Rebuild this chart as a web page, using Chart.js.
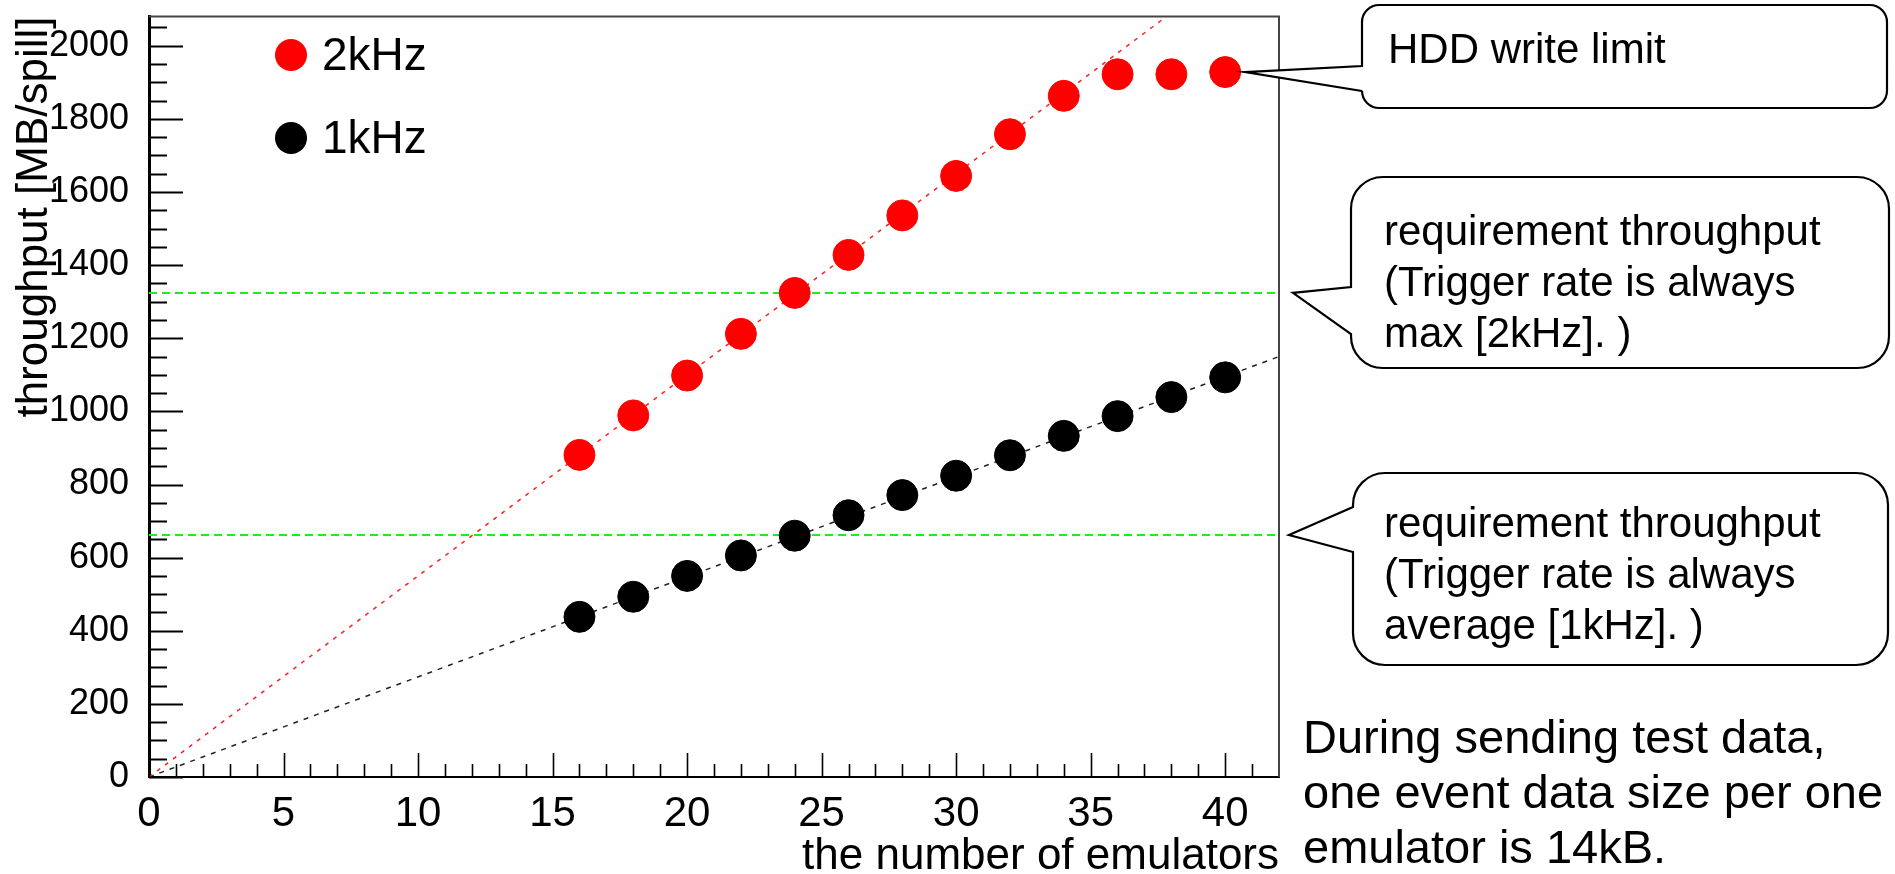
<!DOCTYPE html>
<html>
<head>
<meta charset="utf-8">
<script src="https://cdn.jsdelivr.net/npm/chart.js@4.4.1/dist/chart.umd.min.js"></script>
<style>
  html, body { margin: 0; padding: 0; background: #fff; }
  #wrap { width: 1895px; height: 874px; position: relative; }
</style>
</head>
<body>
<div id="wrap"><canvas id="throughputChart"></canvas></div>
<script>
// Measured throughput per number of emulators
const emulators = [16, 18, 20, 22, 24, 26, 28, 30, 32, 34, 36, 38, 40];
const throughput2kHz = [881, 989, 1098, 1212, 1324, 1428, 1536, 1644, 1758, 1863, 1922, 1922, 1928];
const throughput1kHz = [438, 493, 550, 606, 660, 716, 771, 824, 880, 933, 987, 1039, 1093];

// Straight-line fits through the origin (end points only)
const fitX = [0, 42];
const fit2kHz = [0, 2310];
const fit1kHz = [0, 1150];

// Requirement levels (green dashed lines)
const reqX = [0, 41.85];
const req2kHz = [1324, 1324];
const req1kHz = [662, 662];

// Axes
const xRange = [0, 42];
const yRange = [0, 2080];
const xTickLabels = [0, 5, 10, 15, 20, 25, 30, 35, 40];
const yTickLabels = [0, 200, 400, 600, 800, 1000, 1200, 1400, 1600, 1800, 2000];
const xMinorStep = 1;
const yMinorStep = 50;

const FONT = "'Liberation Sans', Arial, Helvetica, sans-serif";

// Speech bubbles on the right-hand side
const callouts = [
    {
        lines: ['HDD write limit'],
        box: [1362, 5, 1887, 108], base: [66, 91],
        anchor: { x: 40, y: 1928, dx: 20 },
        textX: 1388, firstBaseline: 63
    },
    {
        lines: ['requirement throughput', '(Trigger rate is always', 'max [2kHz]. )'],
        box: [1351, 177, 1889, 368], base: [287, 334],
        anchor: { x: 42, y: 1324, dx: 14 },
        textX: 1384, firstBaseline: 245
    },
    {
        lines: ['requirement throughput', '(Trigger rate is always', 'average [1kHz]. )'],
        box: [1353, 473, 1888, 665], base: [507, 552],
        anchor: { x: 42, y: 662, dx: 10 },
        textX: 1384, firstBaseline: 537
    }
];
const noteLines = ['During sending test data,', 'one event data size per one', 'emulator is 14kB.'];

function toPoints(xs, ys) {
    return xs.map((x, i) => ({ x: x, y: ys[i] }));
}

function calloutPath(ctx, l, t, r, b, rad, tipX, tipY, b1, b2) {
    ctx.beginPath();
    ctx.moveTo(l + rad, t);
    ctx.lineTo(r - rad, t);
    ctx.arcTo(r, t, r, t + rad, rad);
    ctx.lineTo(r, b - rad);
    ctx.arcTo(r, b, r - rad, b, rad);
    ctx.lineTo(l + rad, b);
    ctx.arcTo(l, b, l, b - rad, rad);
    ctx.lineTo(l, b2);
    ctx.lineTo(tipX, tipY);
    ctx.lineTo(l, b1);
    ctx.lineTo(l, t + rad);
    ctx.arcTo(l, t, l + rad, t, rad);
    ctx.closePath();
}

// ROOT-like frame, inward ticks, legend and the callouts
const rootStyle = {
    id: 'rootStyle',
    afterDraw(chart) {
        const { ctx, chartArea: a, scales: { x, y } } = chart;
        ctx.save();

        // top / right frame
        ctx.strokeStyle = '#444';
        ctx.lineWidth = 2;
        ctx.beginPath();
        ctx.moveTo(a.left, a.top);
        ctx.lineTo(a.right, a.top);
        ctx.lineTo(a.right, a.bottom);
        ctx.stroke();

        // inward ticks
        ctx.strokeStyle = '#000';
        ctx.lineWidth = 2;
        ctx.beginPath();
        for (let v = yRange[0]; v <= yRange[1]; v += yMinorStep) {
            const py = Math.round(y.getPixelForValue(v)) + 0.5;
            const len = yTickLabels.includes(v) ? 34 : 18;
            ctx.moveTo(a.left, py);
            ctx.lineTo(a.left + len, py);
        }
        ctx.stroke();
        ctx.lineWidth = 1.6;
        ctx.beginPath();
        for (let v = xRange[0]; v < xRange[1]; v += xMinorStep) {
            const px = Math.round(x.getPixelForValue(v)) + 0.5;
            const len = xTickLabels.includes(v) ? 24 : 13;
            ctx.moveTo(px, a.bottom);
            ctx.lineTo(px, a.bottom - len);
        }
        ctx.stroke();

        // legend
        const legendRows = [55, 138];
        chart.data.datasets.slice(0, 2).forEach((ds, i) => {
            ctx.fillStyle = ds.backgroundColor;
            ctx.beginPath();
            ctx.arc(291, legendRows[i], 16, 0, Math.PI * 2);
            ctx.fill();
            ctx.fillStyle = '#000';
            ctx.font = '46px ' + FONT;
            ctx.textBaseline = 'middle';
            ctx.textAlign = 'left';
            ctx.fillText(ds.label, 322, legendRows[i] + 2);
        });

        // callouts
        callouts.forEach(c => {
            const [l, t, r, b] = c.box;
            const rad = (b - t) / 6;
            const tipX = x.getPixelForValue(c.anchor.x) + c.anchor.dx;
            const tipY = y.getPixelForValue(c.anchor.y);
            calloutPath(ctx, l, t, r, b, rad, tipX, tipY, c.base[0], c.base[1]);
            ctx.fillStyle = '#fff';
            ctx.fill();
            ctx.strokeStyle = '#000';
            ctx.lineWidth = 2.2;
            ctx.lineJoin = 'miter';
            ctx.stroke();
            ctx.fillStyle = '#000';
            ctx.font = '42px ' + FONT;
            ctx.textBaseline = 'alphabetic';
            ctx.textAlign = 'left';
            c.lines.forEach((line, i) => ctx.fillText(line, c.textX, c.firstBaseline + i * 51));
        });

        // note under the callouts
        ctx.font = '47px ' + FONT;
        noteLines.forEach((line, i) => ctx.fillText(line, 1303, 753 + i * 55));

        ctx.restore();
    }
};

Chart.defaults.font.family = FONT;
Chart.defaults.color = '#000';

const ctx = document.getElementById('throughputChart').getContext('2d');
new Chart(ctx, {
    type: 'scatter',
    data: {
        datasets: [
            {
                label: '2kHz',
                data: toPoints(emulators, throughput2kHz),
                backgroundColor: '#ff0000',
                borderColor: '#ff0000',
                pointRadius: 15.5,
                borderWidth: 1
            },
            {
                label: '1kHz',
                data: toPoints(emulators, throughput1kHz),
                backgroundColor: '#000000',
                borderColor: '#000000',
                pointRadius: 15.5,
                borderWidth: 1
            },
            {
                label: 'fit 2kHz',
                data: toPoints(fitX, fit2kHz),
                showLine: true,
                borderColor: '#ff2020',
                borderWidth: 1.5,
                borderDash: [4, 6],
                pointRadius: 0
            },
            {
                label: 'fit 1kHz',
                data: toPoints(fitX, fit1kHz),
                showLine: true,
                borderColor: '#222222',
                borderWidth: 1.5,
                borderDash: [5, 6],
                pointRadius: 0
            },
            {
                label: 'requirement 2kHz',
                data: toPoints(reqX, req2kHz),
                showLine: true,
                borderColor: '#1aef1a',
                borderWidth: 2,
                borderDash: [8, 5],
                pointRadius: 0
            },
            {
                label: 'requirement 1kHz',
                data: toPoints(reqX, req1kHz),
                showLine: true,
                borderColor: '#1aef1a',
                borderWidth: 2,
                borderDash: [8, 5],
                pointRadius: 0
            }
        ]
    },
    options: {
        responsive: true,
        maintainAspectRatio: false,
        animation: false,
        layout: {
            padding: { top: 9, right: 616, bottom: 0, left: 0 }
        },
        plugins: {
            legend: { display: false },
            tooltip: { enabled: false }
        },
        scales: {
            x: {
                type: 'linear',
                position: 'bottom',
                min: xRange[0],
                max: xRange[1],
                afterBuildTicks: scale => {
                    scale.ticks = xTickLabels.map(v => ({ value: v }));
                },
                afterFit: scale => {
                    scale.height = 97;
                    scale.paddingLeft = 0;
                    scale.paddingRight = 0;
                },
                ticks: {
                    font: { size: 42 },
                    padding: 4,
                    maxRotation: 0,
                    autoSkip: false,
                    callback: v => String(v)
                },
                grid: { display: false },
                border: { display: true, color: '#000', width: 2 },
                title: {
                    display: true,
                    text: 'the number of emulators',
                    align: 'end',
                    font: { size: 44, lineHeight: 1 },
                    padding: { top: 0, bottom: -5 }
                }
            },
            y: {
                type: 'linear',
                min: yRange[0],
                max: yRange[1],
                afterBuildTicks: scale => {
                    scale.ticks = yTickLabels.map(v => ({ value: v }));
                },
                afterFit: scale => {
                    scale.width = 149;
                    scale.paddingTop = 0;
                    scale.paddingBottom = 0;
                },
                ticks: {
                    font: { size: 36 },
                    padding: 12,
                    autoSkip: false,
                    callback: v => String(v)
                },
                grid: { display: false },
                border: { display: true, color: '#000', width: 3 },
                title: {
                    display: true,
                    text: 'throughput [MB/spill]',
                    align: 'end',
                    font: { size: 44, lineHeight: 1 },
                    padding: { top: 13, bottom: 0 }
                }
            }
        }
    },
    plugins: [rootStyle]
});
</script>
</body>
</html>
